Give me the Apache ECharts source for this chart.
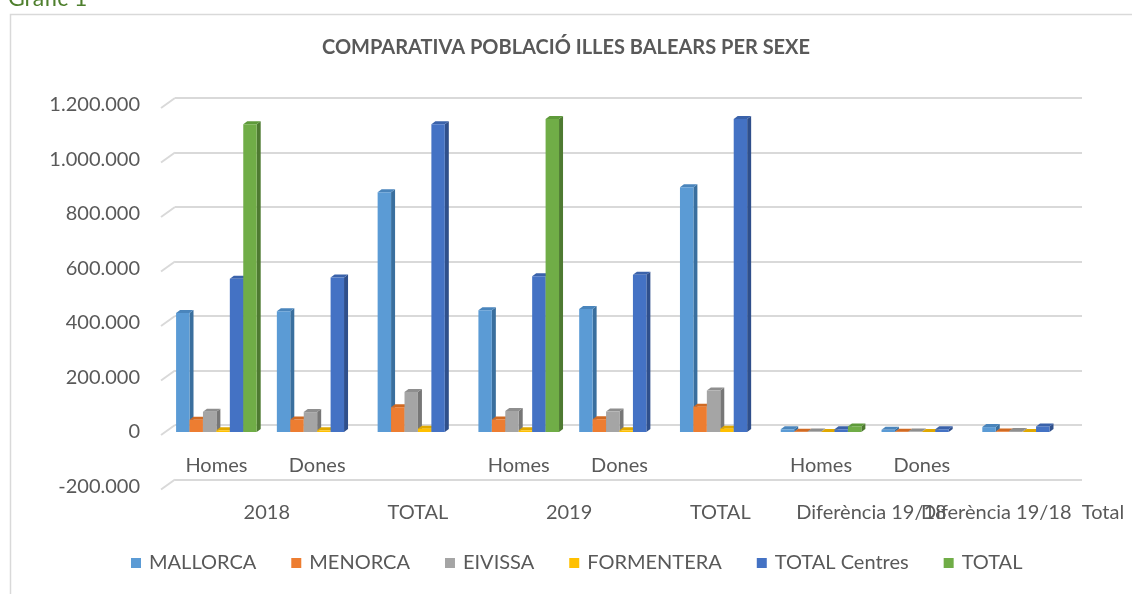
<!DOCTYPE html>
<html>
<head>
<meta charset="utf-8">
<script src="https://cdn.jsdelivr.net/npm/echarts/dist/echarts.min.js"></script>
<style>
  html, body { margin: 0; padding: 0; background: #fff; }
  #main { width: 1132px; height: 594px; }
</style>
</head>
<body>
<div id="main"></div>
<script>
// categories (first level) and group labels (second level)
var categorias = ['Homes', 'Dones', '', 'Homes', 'Dones', '', 'Homes', 'Dones', ''];
var grupPos = [1, 2.5, 4, 5.5, 7, 8.5];
var grupNoms = ['2018', 'TOTAL', '2019', 'TOTAL', 'Diferència 19/18', 'Diferència 19/18  Total'];

// valors per illa
var mallorca   = [437000, 443000, 880000, 447000, 451000, 898000, 10000, 8000, 18000];
var menorca    = [45000, 46000, 91000, 46000, 47000, 93000, 1100, 1100, 2200];
var eivissa    = [74000, 73000, 147000, 77000, 75000, 152000, 2000, 1900, 3900];
var formentera = [6200, 6000, 12200, 6100, 6100, 12200, 0, 0, 0];
var totalCentres = [562000, 567000, 1129000, 572000, 577000, 1149000, 10000, 10000, 20500];
var total      = [1129000, null, null, 1149000, null, null, 20500, null, null];

var ticksY = [-200000, 0, 200000, 400000, 600000, 800000, 1000000, 1200000];

var colors = [
  ['#5B9BD5', '#3A6F9E', '#4A85BC'],
  ['#ED7D31', '#B3591E', '#D06A23'],
  ['#A5A5A5', '#777777', '#8E8E8E'],
  ['#FFC000', '#C09100', '#E0A800'],
  ['#4472C4', '#2F4F8B', '#3A62AA'],
  ['#70AD47', '#4E7A31', '#5E9A3A']
];
var noms = ['MALLORCA', 'MENORCA', 'EIVISSA', 'FORMENTERA', 'TOTAL Centres', 'TOTAL'];
var valors = [mallorca, menorca, eivissa, formentera, totalCentres, total];

var font = 'Lato, "Noto Sans", sans-serif';

function puntsMil(v) {
  var s = String(Math.abs(v)).replace(/\B(?=(\d{3})+(?!\d))/g, '.');
  return (v < 0 ? '-' : '') + s;
}

// barra amb efecte 3D (cara, lateral i tapa)
function barra3d(idx, c) {
  return function (params, api) {
    var cat = api.value(0), val = api.value(1);
    var band = api.size([1, 0])[0];
    var groupW = band * 0.8, bw = groupW / 6;
    var base = api.coord([cat, 0]);
    var top = api.coord([cat, val]);
    var x0 = base[0] - groupW / 2 + idx * bw;
    var y0 = base[1], y1 = top[1];
    var dx = 4, dy = 3;
    return {
      type: 'group',
      children: [
        { type: 'polygon', shape: { points: [[x0 + bw, y1], [x0 + bw + dx, y1 - dy], [x0 + bw + dx, y0 - dy], [x0 + bw, y0]] }, style: { fill: c[1] } },
        { type: 'polygon', shape: { points: [[x0, y1], [x0 + dx, y1 - dy], [x0 + bw + dx, y1 - dy], [x0 + bw, y1]] }, style: { fill: c[2] } },
        { type: 'rect', shape: { x: x0, y: y1, width: bw, height: y0 - y1 }, style: { fill: c[0] } }
      ]
    };
  };
}

var series = [{
  // diagonals de la paret del fons
  type: 'custom',
  xAxisIndex: 2,
  yAxisIndex: 1,
  silent: true,
  data: ticksY.map(function (v) { return [0, v]; }),
  renderItem: function (params, api) {
    var p = api.coord([0, api.value(1)]);
    return { type: 'line', shape: { x1: p[0] - 14, y1: p[1] + 10, x2: p[0], y2: p[1] }, style: { stroke: '#D9D9D9', lineWidth: 2 } };
  }
}];

for (var s = 0; s < noms.length; s++) {
  var dades = [];
  for (var i = 0; i < valors[s].length; i++) {
    if (valors[s][i] !== null) dades.push([i, valors[s][i]]);
  }
  series.push({
    name: noms[s],
    type: 'custom',
    xAxisIndex: 0,
    yAxisIndex: 0,
    itemStyle: { color: colors[s][0] },
    data: dades,
    renderItem: barra3d(s, colors[s])
  });
}

var myChart = echarts.init(document.getElementById('main'));
var option = {
  backgroundColor: '#fff',
  animation: false,
  title: {
    text: 'COMPARATIVA POBLACIÓ ILLES BALEARS PER SEXE',
    left: 'center',
    top: 33,
    textStyle: { fontFamily: font, fontSize: 20, fontWeight: 'bold', color: '#595959' }
  },
  graphic: [
    { type: 'rect', left: 8, top: 12, shape: { width: 1123, height: 600 }, style: { fill: 'none', stroke: '#D9D9D9', lineWidth: 1.5 } },
    { type: 'text', left: 8, top: -13, style: { text: 'Gràfic 1', fill: '#4E7F2D', font: '23px ' + font } }
  ],
  legend: {
    bottom: 16,
    left: 126,
    icon: 'rect',
    itemWidth: 10,
    itemHeight: 10,
    itemGap: 35,
    data: noms,
    textStyle: { fontFamily: font, fontSize: 20, color: '#595959', padding: [0, 0, 0, 3] }
  },
  grid: [
    { left: 166, right: 59, top: 105, bottom: 107.5, outerBoundsMode: 'none' },
    { left: 175, right: 50, top: 98, bottom: 114.5, outerBoundsMode: 'none' }
  ],
  xAxis: [{
    type: 'category',
    gridIndex: 0,
    data: categorias,
    position: 'bottom',
    offset: -54.5,
    axisLine: { show: false, onZero: false },
    axisTick: { show: false },
    axisLabel: { interval: 0, margin: 24, fontFamily: font, fontSize: 20, color: '#595959' },
    splitLine: { show: false }
  }, {
    type: 'value',
    gridIndex: 0,
    min: 0,
    max: 9,
    interval: 0.5,
    position: 'bottom',
    axisLine: { show: false, onZero: false },
    axisTick: { show: false },
    splitLine: { show: false },
    axisLabel: {
      margin: 16,
      fontFamily: font,
      fontSize: 20,
      color: '#595959',
      showMinLabel: true,
      showMaxLabel: true,
      formatter: function (v) {
        var k = grupPos.indexOf(v);
        return k < 0 ? '' : grupNoms[k];
      }
    }
  }, {
    type: 'value',
    gridIndex: 1,
    min: 0,
    max: 9,
    show: false
  }],
  yAxis: [{
    type: 'value',
    gridIndex: 0,
    min: -200000,
    max: 1200000,
    interval: 200000,
    axisLine: { show: false },
    axisTick: { show: false },
    splitLine: { show: false },
    axisLabel: { margin: 26, fontFamily: font, fontSize: 20, color: '#595959', formatter: puntsMil }
  }, {
    type: 'value',
    gridIndex: 1,
    min: -200000,
    max: 1200000,
    interval: 200000,
    axisLine: { show: false },
    axisTick: { show: false },
    axisLabel: { show: false },
    splitLine: { show: true, lineStyle: { color: '#D9D9D9', width: 2 } }
  }],
  series: series
};
myChart.setOption(option);
</script>
</body>
</html>
